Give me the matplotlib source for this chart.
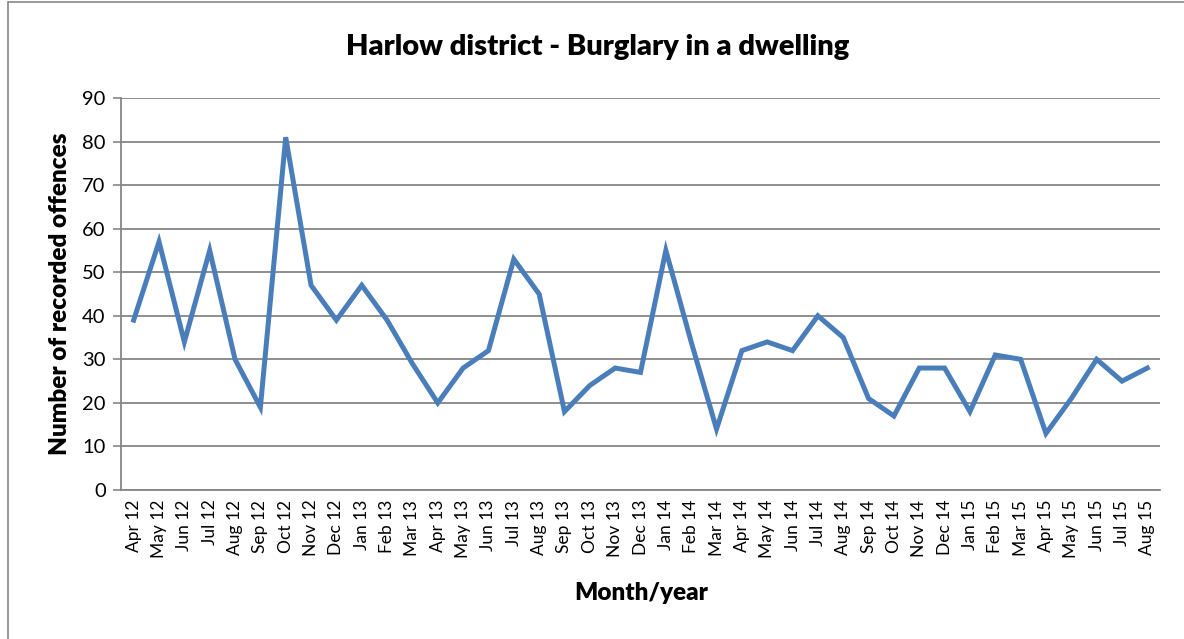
import matplotlib
matplotlib.use("Agg")
import matplotlib.pyplot as plt
from matplotlib.patches import Rectangle

plt.rcParams["font.family"] = ["Lato", "DejaVu Sans"]

# monthly recorded offences, Apr 2012 - Aug 2015
months = ["Apr 12", "May 12", "Jun 12", "Jul 12", "Aug 12", "Sep 12", "Oct 12",
          "Nov 12", "Dec 12", "Jan 13", "Feb 13", "Mar 13", "Apr 13", "May 13",
          "Jun 13", "Jul 13", "Aug 13", "Sep 13", "Oct 13", "Nov 13", "Dec 13",
          "Jan 14", "Feb 14", "Mar 14", "Apr 14", "May 14", "Jun 14", "Jul 14",
          "Aug 14", "Sep 14", "Oct 14", "Nov 14", "Dec 14", "Jan 15", "Feb 15",
          "Mar 15", "Apr 15", "May 15", "Jun 15", "Jul 15", "Aug 15"]
offences = [39, 57, 34, 55, 30, 19, 81, 47, 39, 47, 39, 29, 20, 28, 32,
            53, 45, 18, 24, 28, 27, 55, 34, 14, 32, 34, 32, 40, 35, 21,
            17, 28, 28, 18, 31, 30, 13, 21, 30, 25, 28]
y_ticks = list(range(0, 91, 10))

grey = "#868686"

fig = plt.figure(figsize=(11.84, 6.39), dpi=100)
# outer chart border
fig.add_artist(Rectangle((8 / 1184, -0.05), 1.2, 1.05 - 2 / 639,
                         transform=fig.transFigure, fill=False,
                         edgecolor=grey, linewidth=1.2))

ax = fig.add_axes([121 / 1184, 1 - 490 / 639, (1160 - 121) / 1184, (490 - 98) / 639])

x = list(range(len(months)))
ax.plot(x, offences, color="#4A7EBB", linewidth=3.6, solid_joinstyle="miter", zorder=3)

ax.set_xlim(-0.5, len(months) - 0.5)
ax.set_ylim(0, 90)
ax.set_yticks(y_ticks)
ax.set_xticks(x)
ax.set_xticklabels(months, rotation=90, fontsize=12.5)
ax.tick_params(axis="y", labelsize=14.5, length=6, color=grey, width=1.2, pad=5)
ax.tick_params(axis="x", length=0, pad=7)
ax.grid(axis="y", color=grey, linewidth=1.3)
ax.set_axisbelow(True)

for side in ["top", "right"]:
    ax.spines[side].set_visible(False)
for side in ["left", "bottom"]:
    ax.spines[side].set_color(grey)
    ax.spines[side].set_linewidth(1.3)

fig.text(598 / 1184, 1 - 47 / 639, "Harlow district - Burglary in a dwelling",
         ha="center", va="center", fontsize=21, fontweight="heavy")
fig.text(641 / 1184, 1 - 593 / 639, "Month/year",
         ha="center", va="center", fontsize=17.5, fontweight="heavy")
fig.text(60 / 1184, 1 - 294 / 639, "Number of recorded offences",
         ha="center", va="center", rotation=90, fontsize=17.5, fontweight="heavy")

fig.savefig("out.png", dpi=100)
